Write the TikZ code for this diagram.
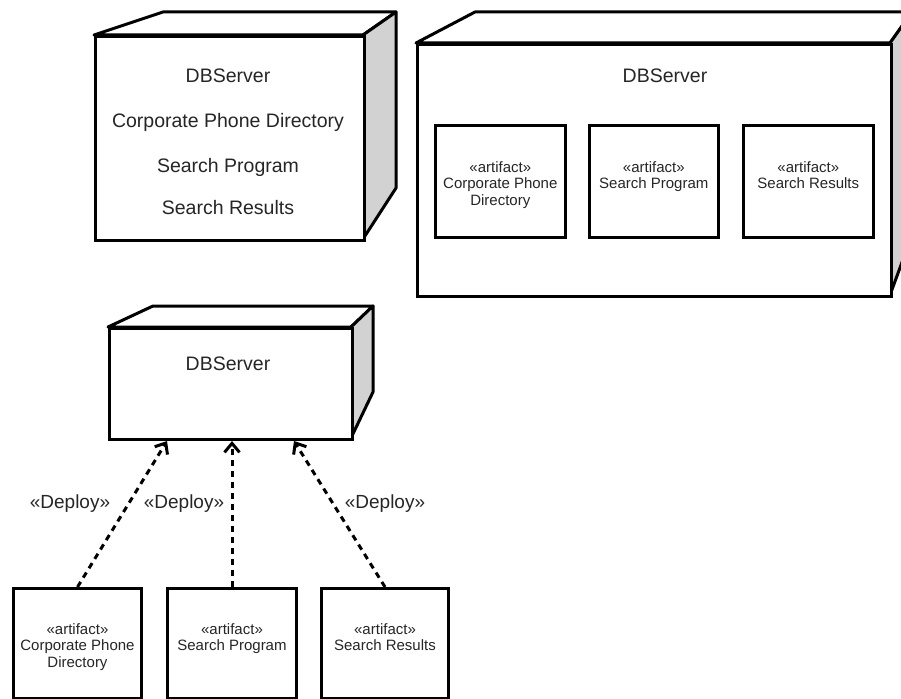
\documentclass[tikz,border=0pt]{standalone}
\usepackage{fontspec}
\setmainfont{Liberation Sans}
\usetikzlibrary{arrows.meta}
\definecolor{sidegray}{HTML}{D2D2D2}
\definecolor{txt}{HTML}{262626}
\tikzset{
  frontface/.style={draw, line width=3pt, fill=white, inner sep=0pt, anchor=north west},
  sideface/.style={draw, line width=3pt, fill=sidegray, line join=round},
  topface/.style={draw, line width=3pt, fill=white, line join=round},
  artbox/.style={draw, line width=2.6pt, fill=white, inner sep=0pt, anchor=north west},
  bigtxt/.style={font=\fontsize{19.5}{22}\selectfont, text=txt, inner sep=0pt, anchor=base},
  arttxt/.style={font=\fontsize{15}{16.5}\selectfont, text=txt, align=center, inner sep=0pt, anchor=north},
  deploytxt/.style={font=\fontsize{19}{22}\selectfont, text=txt, inner sep=0pt, anchor=base},
  deployarrow/.style={line width=3pt, dash pattern=on 6pt off 5pt, -{Straight Barb[length=9pt,width=15pt,line width=3pt]}}
}
\begin{document}
\begin{tikzpicture}[x=1pt,y=-1pt]
\clip (0,0) rectangle (901,698);
\fill[white] (0,0) rectangle (901,698);

% ---------- Box 1 (top left) ----------
\draw[topface] (94,35) -- (163,12) -- (396,12) -- (363,35) -- cycle;
\draw[sideface] (363,35) -- (396,12) -- (396,188) -- (363,239) -- cycle;
\node[frontface, minimum width=269pt, minimum height=204pt] (srv1) at (94,35) {};
\node[bigtxt] (s1a) at (228,83) {DBServer};
\node[bigtxt] (s1b) at (228,127) {Corporate Phone Directory};
\node[bigtxt] (s1c) at (228,172) {Search Program};
\node[bigtxt] (s1d) at (228,214) {Search Results};

% ---------- Box 2 (top right) ----------
\draw[topface] (416,43) -- (475,12) -- (912,12) -- (890,43) -- cycle;
\draw[sideface] (890,43) -- (912,12) -- (912,235) -- (890,295) -- cycle;
\node[frontface, minimum width=474pt, minimum height=252pt] (srv2) at (416,43) {};
\node[bigtxt] (s2a) at (665,83) {DBServer};
\node[artbox, minimum width=130pt, minimum height=112pt] (a1) at (434,124) {};
\node[artbox, minimum width=129pt, minimum height=112pt] (a2) at (588,124) {};
\node[artbox, minimum width=130pt, minimum height=112pt] (a3) at (742,124) {};
\node[arttxt] (a1t) at ([yshift=-37pt]a1.north) {«artifact»\\Corporate Phone\\Directory};
\node[arttxt] (a2t) at ([yshift=-37pt]a2.north) {«artifact»\\Search Program};
\node[arttxt] (a3t) at ([yshift=-37pt]a3.north) {«artifact»\\Search Results};

% ---------- Box 3 (middle) ----------
\draw[topface] (108,327) -- (153,306) -- (373,306) -- (351,327) -- cycle;
\draw[sideface] (351,327) -- (373,306) -- (373,392) -- (351,438) -- cycle;
\node[frontface, minimum width=243pt, minimum height=111pt] (srv3) at (108,327) {};
\node[bigtxt] (s3a) at (228,370) {DBServer};

% ---------- Bottom artifacts ----------
\node[artbox, line width=3pt, minimum width=128pt, minimum height=110pt] (b1) at (12,587) {};
\node[artbox, line width=3pt, minimum width=129pt, minimum height=110pt] (b2) at (166,587) {};
\node[artbox, line width=3pt, minimum width=127pt, minimum height=110pt] (b3) at (320,587) {};
\node[arttxt] (b1t) at ([yshift=-36pt]b1.north) {«artifact»\\Corporate Phone\\Directory};
\node[arttxt] (b2t) at ([yshift=-36pt]b2.north) {«artifact»\\Search Program};
\node[arttxt] (b3t) at ([yshift=-36pt]b3.north) {«artifact»\\Search Results};

% ---------- Deploy dependencies ----------
\draw[deployarrow] (b1.north) -- ([xshift=59pt]srv3.south west);
\draw[deployarrow] (b2.north) -- (b2.north |- srv3.south);
\draw[deployarrow] (b3.north) -- ([xshift=186pt]srv3.south west);
\node[deploytxt] (d1) at (70,508) {«Deploy»};
\node[deploytxt] (d2) at (184,508) {«Deploy»};
\node[deploytxt] (d3) at (385,508) {«Deploy»};
\end{tikzpicture}
\end{document}
